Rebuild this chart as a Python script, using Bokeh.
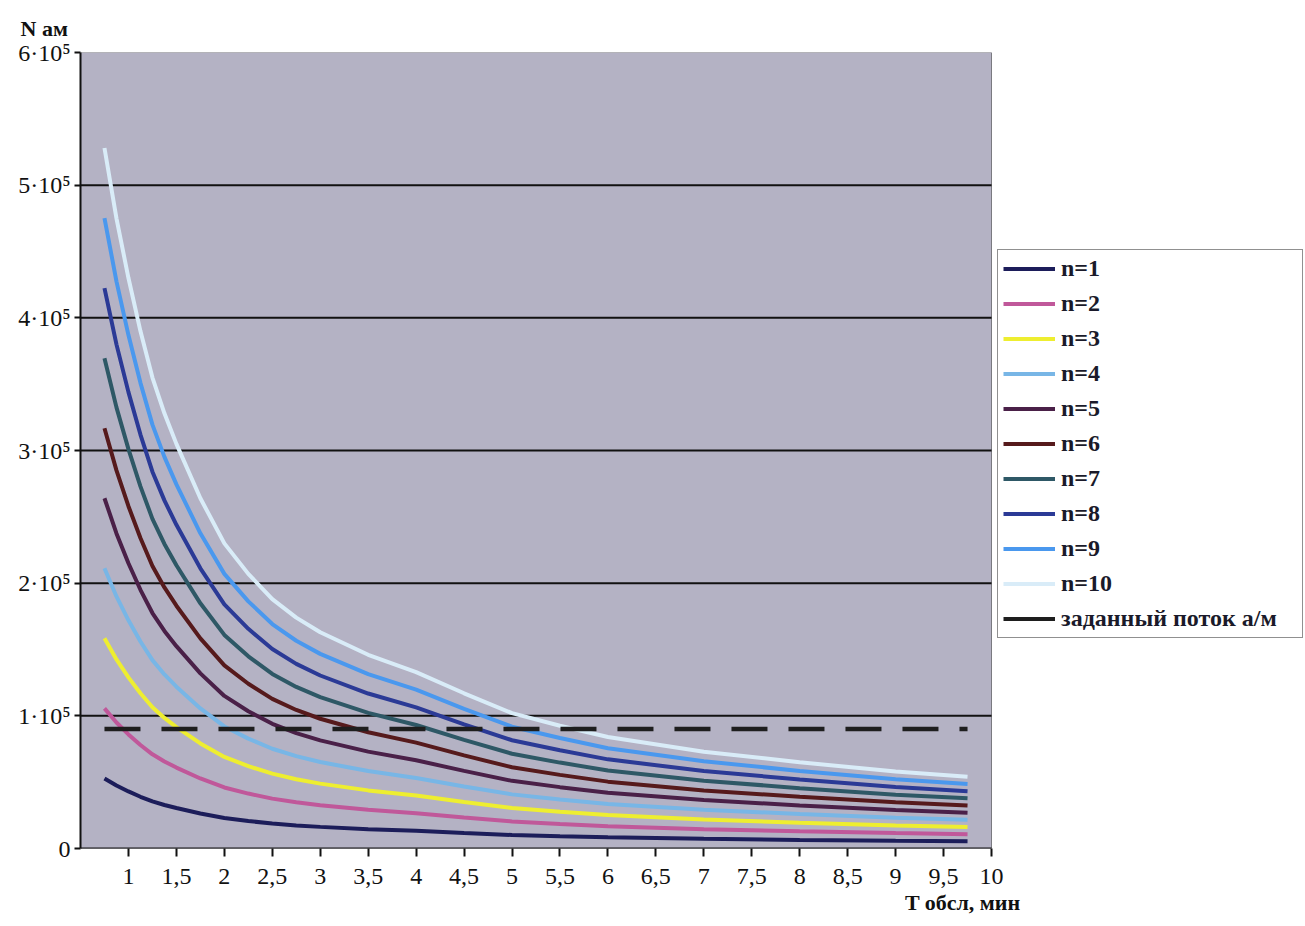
from bokeh.plotting import figure
from bokeh.models import (Legend, LegendItem, FixedTicker, Range1d, Title,
                          ColumnDataSource, CDSView, IndexFilter)
from bokeh.embed import file_html
from bokeh.resources import INLINE

# --- data ---
T = [0.75, 0.875, 1, 1.125, 1.25, 1.375, 1.5, 1.75, 2, 2.25, 2.5, 2.75, 3, 3.5, 4, 4.5,
     5, 5.5, 6, 7, 8, 9, 9.75]
n1 = [52800, 47500, 43000, 39000, 35500, 32800, 30500, 26400, 23000, 20700, 18800, 17400,
      16300, 14600, 13300, 11700, 10200, 9250, 8400, 7300, 6500, 5800, 5400]
n2 = [105600, 95000, 86000, 78000, 71000, 65600, 61000, 52800, 46000, 41400, 37600, 34800,
      32600, 29200, 26600, 23400, 20400, 18500, 16800, 14600, 13000, 11600, 10800]
n3 = [158400, 142500, 129000, 117000, 106500, 98400, 91500, 79200, 69000, 62100, 56400, 52200,
      48900, 43800, 39900, 35100, 30600, 27750, 25200, 21900, 19500, 17400, 16200]
n4 = [211200, 190000, 172000, 156000, 142000, 131200, 122000, 105600, 92000, 82800, 75200, 69600,
      65200, 58400, 53200, 46800, 40800, 37000, 33600, 29200, 26000, 23200, 21600]
n5 = [264000, 237500, 215000, 195000, 177500, 164000, 152500, 132000, 115000, 103500, 94000, 87000,
      81500, 73000, 66500, 58500, 51000, 46250, 42000, 36500, 32500, 29000, 27000]
n6 = [316800, 285000, 258000, 234000, 213000, 196800, 183000, 158400, 138000, 124200, 112800, 104400,
      97800, 87600, 79800, 70200, 61200, 55500, 50400, 43800, 39000, 34800, 32400]
n7 = [369600, 332500, 301000, 273000, 248500, 229600, 213500, 184800, 161000, 144900, 131600, 121800,
      114100, 102200, 93100, 81900, 71400, 64750, 58800, 51100, 45500, 40600, 37800]
n8 = [422400, 380000, 344000, 312000, 284000, 262400, 244000, 211200, 184000, 165600, 150400, 139200,
      130400, 116800, 106400, 93600, 81600, 74000, 67200, 58400, 52000, 46400, 43200]
n9 = [475200, 427500, 387000, 351000, 319500, 295200, 274500, 237600, 207000, 186300, 169200, 156600,
      146700, 131400, 119700, 105300, 91800, 83250, 75600, 65700, 58500, 52200, 48600]
n10 = [528000, 475000, 430000, 390000, 355000, 328000, 305000, 264000, 230000, 207000, 188000, 174000,
       163000, 146000, 133000, 117000, 102000, 92500, 84000, 73000, 65000, 58000, 54000]
series = [n1, n2, n3, n4, n5, n6, n7, n8, n9, n10]
series_names = ["n=1", "n=2", "n=3", "n=4", "n=5", "n=6", "n=7", "n=8", "n=9", "n=10"]
threshold_T = [0.75, 9.75]
threshold_N = [90000, 90000]
threshold_name = "заданный поток а/м"

x_ticks = [1, 1.5, 2, 2.5, 3, 3.5, 4, 4.5, 5, 5.5, 6, 6.5, 7, 7.5, 8, 8.5, 9, 9.5, 10]
x_tick_labels = ["1", "1,5", "2", "2,5", "3", "3,5", "4", "4,5", "5", "5,5", "6", "6,5",
                 "7", "7,5", "8", "8,5", "9", "9,5", "10"]
y_ticks = [0, 100000, 200000, 300000, 400000, 500000, 600000]
y_tick_labels = ["0", "1·10⁵", "2·10⁵", "3·10⁵", "4·10⁵", "5·10⁵", "6·10⁵"]

# --- layout / style ---
colors = ["#1c1d5a", "#c0589a", "#eeee30", "#78b6e6", "#4a2048", "#561a1c",
          "#2e5866", "#2b3a96", "#4a98ee", "#d9ecf8"]
FONT = "Liberation Serif"
X0, X1 = 0.5, 10          # extent of the chart's x axis
Y0, Y1 = 0, 600000        # extent of the chart's y axis
AREA_W = 911              # pixel width of the gray plotting area
FRAME_W = 1223            # frame also hosts the legend on the right
x_end = X0 + (X1 - X0) * FRAME_W / AREA_W

p = figure(frame_width=FRAME_W, frame_height=796, x_range=Range1d(X0, x_end),
           y_range=Range1d(Y0, Y1), output_backend="svg", toolbar_location=None,
           min_border_left=80, min_border_top=52, min_border_bottom=4, min_border_right=2)

p.background_fill_color = "white"
p.border_fill_color = "white"
p.outline_line_color = None
p.grid.visible = False

# gray plotting area with thin outline
p.quad(left=[X0], right=[X1], bottom=[Y0], top=[Y1], fill_color="#b4b2c4",
       line_color="#7a7a80", line_width=1)
# horizontal grid lines across the plotting area only
grid_y = y_ticks[1:-1]
p.segment(x0=[X0] * len(grid_y), x1=[X1] * len(grid_y), y0=grid_y, y1=grid_y,
          line_color="#111111", line_width=2)

p.xaxis.ticker = FixedTicker(ticks=x_ticks)
p.xaxis.major_label_overrides = {t: l for t, l in zip(x_ticks, x_tick_labels)}
p.yaxis.ticker = FixedTicker(ticks=y_ticks)
p.yaxis.major_label_overrides = {t: l for t, l in zip(y_ticks, y_tick_labels)}

for ax in (p.xaxis, p.yaxis):
    ax.axis_line_color = "#111111"
    ax.axis_line_width = 2
    ax.major_tick_line_color = "#111111"
    ax.major_tick_line_width = 2
    ax.major_tick_in = 0
    ax.minor_tick_line_color = None
    ax.major_label_text_font = FONT
    ax.major_label_text_font_size = "24px"
    ax.major_label_text_color = "#111111"
p.xaxis.axis_line_color = None
p.segment(x0=[X0], x1=[X1], y0=[Y0], y1=[Y0], line_color="#111111", line_width=2)
p.xaxis.major_tick_out = 8
p.yaxis.major_tick_out = 6
p.xaxis.major_label_standoff = 12
p.yaxis.major_label_standoff = 4

items = []
for s, name, c in zip(series, series_names, colors):
    r = p.line(T, s, line_color=c, line_width=4)
    items.append(LegendItem(label=name, renderers=[r]))
p.line(threshold_T, threshold_N, line_color="#1e1e1e", line_width=4.5, line_dash="36 21")
# solid sample for the legend entry (a single point draws nothing in the plot)
thr_src = ColumnDataSource(data=dict(x=threshold_T, y=threshold_N))
leg_r = p.line("x", "y", source=thr_src, view=CDSView(filter=IndexFilter([0])),
               line_color="#1e1e1e", line_width=4)
items.append(LegendItem(label=threshold_name, renderers=[leg_r]))

legend = Legend(items=items, location=(917, 210),
                border_line_color="#222222", border_line_width=1.5,
                background_fill_color="white", background_fill_alpha=1,
                label_text_font=FONT, label_text_font_style="bold",
                label_text_font_size="24px", label_text_color="#1a1a2a",
                glyph_width=52, glyph_height=25, label_height=25, label_width=236,
                spacing=8, padding=5, margin=0, label_standoff=6)
p.add_layout(legend, "center")

top_title = Title(text="N ам", align="left", offset=-60, text_font=FONT,
                  text_font_style="bold", text_font_size="22px", text_color="#111111")
try:
    top_title.standoff = 24
except Exception:
    pass
p.add_layout(top_title, "above")
bottom_title = Title(text="T обсл, мин", align="right", offset=283, text_font=FONT,
                     text_font_style="bold", text_font_size="22px", text_color="#111111")
try:
    bottom_title.standoff = 2
except Exception:
    pass
p.add_layout(bottom_title, "below")

open("out.html", "w").write(file_html(p, INLINE))
